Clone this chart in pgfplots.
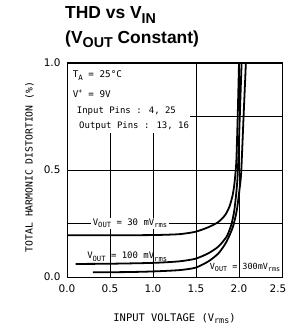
\documentclass[border=0pt]{standalone}
\usepackage{fontspec}
\setmainfont{DejaVu Sans}
\newfontfamily\monofont{DejaVu Sans Mono}
\newfontfamily\titlefont{Liberation Sans}
\usepackage{pgfplots}
\pgfplotsset{compat=1.18}
\newcommand\sub[1]{\raisebox{-0.45ex}{\scalebox{0.8}{#1}}}
\newcommand\tsub[1]{\raisebox{-0.5ex}{\scalebox{0.82}{#1}}}
\begin{document}
\begin{tikzpicture}[x=1bp,y=1bp]
\useasboundingbox (0,0) rectangle (288,331);
\begin{axis}[
  at={(67bp,54bp)}, anchor=south west,
  scale only axis, width=215bp, height=214bp,
  xmin=0, xmax=2.5, ymin=0, ymax=1,
  xtick={0,0.5,1,1.5,2},
  xticklabels={0.0,0.5,1.0,1.5,2.0},
  extra x ticks={2.5},
  extra x tick labels={2.5},
  extra x tick style={grid=none, xticklabel style={xshift=-4bp}},
  ytick={0,0.25,0.5,0.75,1},
  yticklabels={0.0,,0.5,,1.0},
  grid=major,
  major grid style={black, line width=0.7pt},
  tick style={draw=none},
  axis line style={black, line width=1pt},
  xticklabel style={font=\fontsize{10.5}{12}\selectfont, yshift=-4bp},
  yticklabel style={font=\fontsize{10.5}{12}\selectfont, xshift=-3bp},
  /pgf/number format/assume math mode=true,
]
\addplot[black, line width=1.8pt, smooth, tension=0.4] coordinates {
(0,0.195) (0.5,0.195) (1.0,0.196) (1.3,0.2) (1.49,0.211) (1.64,0.232) (1.76,0.257)
(1.84,0.29) (1.89,0.33) (1.925,0.38) (1.945,0.43) (1.96,0.49) (1.97,0.55) (1.985,0.75) (2.0,1.0)};
\addplot[black, line width=1.8pt, smooth, tension=0.4] coordinates {
(0.1,0.061) (0.5,0.062) (1.0,0.066) (1.3,0.073) (1.49,0.085) (1.64,0.11) (1.76,0.142)
(1.855,0.188) (1.91,0.243) (1.945,0.31) (1.97,0.40) (1.985,0.48) (2.005,0.7) (2.03,1.0)};
\addplot[black, line width=1.8pt, smooth, tension=0.4] coordinates {
(0.3,0.022) (0.7,0.023) (1.0,0.026) (1.3,0.032) (1.49,0.043) (1.64,0.072) (1.76,0.11)
(1.855,0.165) (1.93,0.235) (1.975,0.313) (2.005,0.407) (2.025,0.485) (2.05,0.72) (2.08,1.0)};
% annotation box
\fill[white] (axis cs:0.012,0.673) rectangle (axis cs:1.43,0.995);
\node[anchor=base west, inner sep=0, font=\monofont\fontsize{9.3}{11}\selectfont] at (axis cs:0.066,0.930) {T\sub{A} = 25°C};
\node[anchor=base west, inner sep=0, font=\monofont\fontsize{9.3}{11}\selectfont] at (axis cs:0.066,0.841) {V\textsuperscript{+} = 9V};
\node[anchor=base west, inner sep=0, font=\monofont\fontsize{9}{11}\selectfont] at (axis cs:0.113,0.766) {Input Pins : 4, 25};
\node[anchor=base west, inner sep=0, font=\monofont\fontsize{9}{11}\selectfont] at (axis cs:0.14,0.696) {Output Pins : 13, 16};
% curve labels
\node[fill=white, inner sep=1.5bp, font=\monofont\fontsize{9}{11}\selectfont] at (axis cs:0.733,0.25) {V\sub{OUT} = 30 mV\sub{rms}};
\node[inner sep=0, font=\monofont\fontsize{9}{11}\selectfont] at (axis cs:0.70,0.095) {V\sub{OUT} = 100 mV\sub{rms}};
\node[inner sep=0, font=\monofont\fontsize{8.5}{10}\selectfont] at (axis cs:2.07,0.045) {V\sub{OUT} = 300mV\sub{rms}};
\end{axis}
\node[anchor=base west, font=\titlefont\bfseries\fontsize{17.5}{20}\selectfont, inner sep=0] at (65,312.5) {THD vs V\tsub{IN}};
\node[anchor=base west, font=\titlefont\bfseries\fontsize{17.5}{20}\selectfont, inner sep=0] at (65,288) {(V\tsub{OUT} Constant)};
\node[anchor=base, font=\monofont\fontsize{10.5}{12}\selectfont, inner sep=0] at (174.5,10) {INPUT VOLTAGE (V\sub{rms})};
\node[rotate=90, font=\monofont\fontsize{9.8}{12}\selectfont, inner sep=0] at (29.5,164) {TOTAL HARMONIC DISTORTION (\%)};
\end{tikzpicture}
\end{document}
